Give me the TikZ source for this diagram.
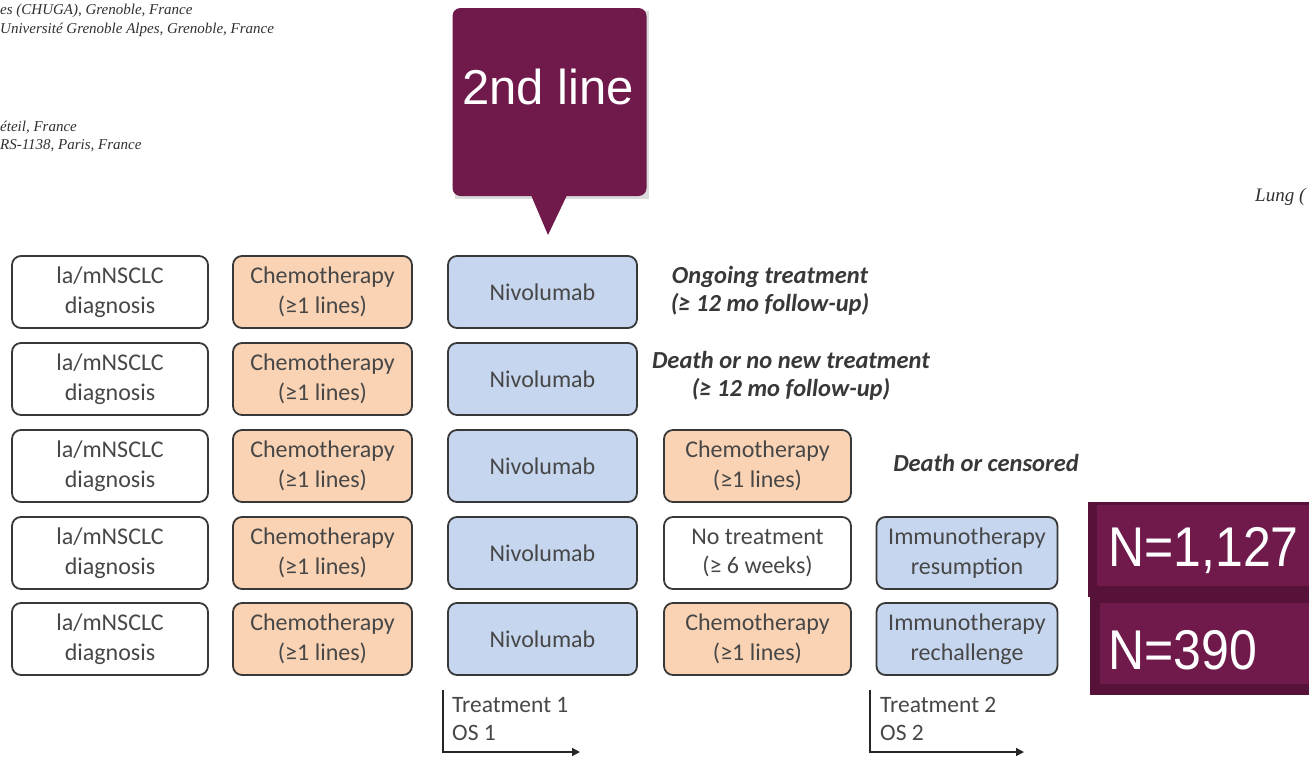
\documentclass[tikz,border=0pt]{standalone}
\usepackage{fontspec}
\setsansfont{Carlito}
\newfontfamily\arialf{Liberation Sans}
\newfontfamily\affilf{Liberation Serif}
\usetikzlibrary{arrows.meta}
\definecolor{plum}{HTML}{701A4C}
\definecolor{plumdark}{HTML}{561238}
\definecolor{peach}{HTML}{FAD3B4}
\definecolor{skyb}{HTML}{C6D6EE}
\definecolor{boxline}{HTML}{383838}
\definecolor{boxtext}{HTML}{474747}
\definecolor{affil}{HTML}{303030}
\tikzset{
  flowbox/.style={draw=boxline, line width=1.8pt, rounded corners=9pt, minimum height=72pt,
    align=center, font=\sffamily\fontsize{24}{29.5}\selectfont, text=boxtext, inner sep=0pt},
  diagbox/.style={flowbox, fill=white, minimum width=196pt},
  chemobox/.style={flowbox, fill=peach, minimum width=179pt},
  nivobox/.style={flowbox, fill=skyb, minimum width=189pt},
  lbl/.style={font=\sffamily\bfseries\itshape\fontsize{24.5}{28.5}\selectfont, text=boxline, align=center, inner sep=0pt},
  affiltext/.style={font=\affilf\itshape\fontsize{15}{17}\selectfont, text=affil, anchor=west, inner sep=0pt},
  axislbl/.style={font=\sffamily\fontsize{23.5}{28}\selectfont, text=boxtext, anchor=north west, align=left, inner sep=0pt},
  axisline/.style={line width=1.6pt, draw=black!85},
  nval/.style={font=\arialf\fontsize{50}{50}\selectfont, text=white, anchor=west, inner sep=0pt}
}
\begin{document}
\begin{tikzpicture}[x=1pt,y=-1pt]
\useasboundingbox (0,0) rectangle (1309,761);
\fill[white] (0,0) rectangle (1309,761);

% affiliation fragments
\node[affiltext] (af1) at (0,11) {es (CHUGA), Grenoble, France};
\node[affiltext] (af2) at (0,30) {Université Grenoble Alpes, Grenoble, France};
\node[affiltext] (af3) at (0,127) {éteil, France};
\node[affiltext] (af4) at (0,146) {RS-1138, Paris, France};
\node[affiltext, font=\affilf\itshape\fontsize{19}{20}\selectfont] (af5) at (1255,197) {Lung (};

% callout
\fill[black!14] (455,11) rectangle (649,199);
\node[fill=plum, rounded corners=8pt, minimum width=194pt, minimum height=188pt, inner sep=0pt] (callout) at (549.5,102) {};
\fill[plum] ([xshift=-18pt]callout.south) -- (548,235) -- ([xshift=17pt]callout.south) -- cycle;
\node[font=\arialf\fontsize{49}{49}\selectfont, text=white, inner sep=0pt] (ctext) at (548,87) {2nd line};

% rows
\foreach \r/\y in {1/292,2/379,3/466,4/553,5/639}{
  \node[diagbox] (d\r) at (110,\y) {la/mNSCLC\\diagnosis};
  \node[chemobox] (c\r) at (322.5,\y) {Chemotherapy\\(≥1 lines)};
  \node[nivobox] (n\r) at (542.5,\y) {Nivolumab};
}
\node[flowbox, fill=peach, minimum width=187pt] (t3) at (757.5,466) {Chemotherapy\\(≥1 lines)};
\node[flowbox, fill=white, minimum width=187pt] (t4) at (757.5,553) {No treatment\\(≥ 6 weeks)};
\node[flowbox, fill=peach, minimum width=187pt] (t5) at (757.5,639) {Chemotherapy\\(≥1 lines)};
\node[flowbox, fill=skyb, minimum width=181pt] (i4) at (967,553) {Immunotherapy\\resumption};
\node[flowbox, fill=skyb, minimum width=181pt] (i5) at (967,639) {Immunotherapy\\rechallenge};

% outcome labels
\node[lbl] (o1) at (770,291) {Ongoing treatment\\(≥ 12 mo follow-up)};
\node[lbl] (o2) at (791,376) {Death or no new treatment\\(≥ 12 mo follow-up)};
\node[lbl] (o3) at (986,463) {Death or censored};

% N boxes
\fill[plumdark] (1088,502) rectangle (1309,597);
\fill[plum] (1097,505) rectangle (1309,586);
\fill[plumdark] (1090,597) rectangle (1309,695);
\fill[plum] (1100,603) rectangle (1309,684);
\node[nval] (nv1) at (1108,551) {\scalebox{1}[1.12]{N=1,127}};
\node[nval] (nv2) at (1108,650) {\scalebox{1}[1.12]{N=390}};

% time axes
\coordinate (a1top) at (443,690);
\coordinate (a1corner) at (443,752);
\coordinate (a1end) at (580,752);
\draw[axisline, -{Triangle[length=8pt,width=8pt]}] (a1top) -- (a1corner) -- (a1end);
\node[axislbl] (ax1) at (452,697) {Treatment 1\\OS 1};
\coordinate (a2top) at (870,690);
\coordinate (a2corner) at (870,752);
\coordinate (a2end) at (1024,752);
\draw[axisline, -{Triangle[length=8pt,width=8pt]}] (a2top) -- (a2corner) -- (a2end);
\node[axislbl] (ax2) at (880,697) {Treatment 2\\OS 2};
\end{tikzpicture}
\end{document}
